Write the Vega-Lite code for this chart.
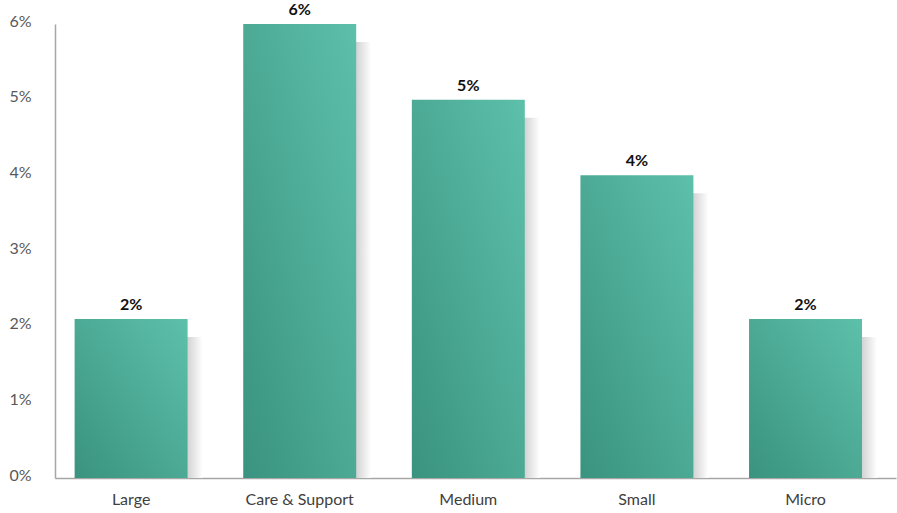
{
  "$schema": "https://vega.github.io/schema/vega-lite/v6.json",
  "width": 841,
  "height": 454,
  "autosize": {"type": "none"},
  "padding": {"left": 55, "top": 24, "right": 1, "bottom": 35},
  "background": "white",
  "config": {"view": {"stroke": null}, "font": "Lato"},
  "data": {"values": [
    {"category": "Large", "value": 0.021},
    {"category": "Care & Support", "value": 0.06},
    {"category": "Medium", "value": 0.05},
    {"category": "Small", "value": 0.04},
    {"category": "Micro", "value": 0.021}
  ]},
  "encoding": {
    "x": {
      "field": "category", "type": "nominal", "sort": null,
      "scale": {"paddingInner": 0.33, "paddingOuter": 0.159, "align": 0.366},
      "axis": {"title": null, "labelAngle": 0, "ticks": false, "domainColor": "#a6a6a6", "domainWidth": 1.5, "labelFont": "Lato", "labelFontSize": 16, "labelColor": "#404040", "labelPadding": 13}
    },
    "y": {
      "field": "value", "type": "quantitative",
      "scale": {"domain": [0, 0.06], "nice": false},
      "axis": {"title": null, "format": ".0%", "values": [0, 0.01, 0.02, 0.03, 0.04, 0.05, 0.06], "grid": false, "ticks": false, "domainColor": "#a6a6a6", "domainWidth": 1.5, "labelFont": "Lato", "labelFontSize": 16, "labelColor": "#595959", "labelPadding": 24, "labelOffset": -3}
    }
  },
  "layer": [
    {
      "mark": {
        "type": "bar", "xOffset": 15, "yOffset": 18, "clip": true,
        "fill": {"x1": 0, "y1": 0, "x2": 1, "y2": 0, "gradient": "linear", "stops": [
          {"offset": 0, "color": "#d4d4d4"},
          {"offset": 0.87, "color": "#d4d4d4"},
          {"offset": 1, "color": "#ffffff"}
        ]}
      }
    },
    {
      "mark": {
        "type": "bar",
        "fill": {"x1": 0, "y1": 1, "x2": 1, "y2": 0, "gradient": "linear", "stops": [
          {"offset": 0, "color": "#3a937e"},
          {"offset": 1, "color": "#5dc0ab"}
        ]}
      }
    },
    {
      "mark": {"type": "text", "baseline": "alphabetic", "dy": -9, "fontSize": 16, "fontWeight": "bold", "font": "Lato", "color": "#111111"},
      "encoding": {"text": {"field": "value", "format": ".0%"}}
    }
  ]
}
